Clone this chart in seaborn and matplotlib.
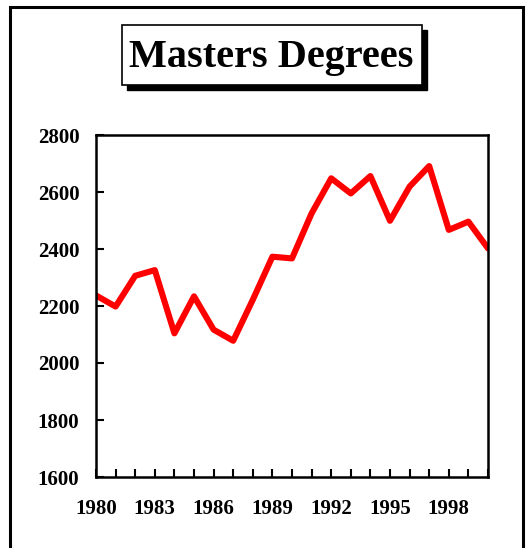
import pandas as pd
import matplotlib.pyplot as plt
import seaborn as sns
from matplotlib.patches import Rectangle

years = list(range(1980, 2001))
degrees = [2237, 2198, 2306, 2326, 2104, 2234, 2117, 2078, 2222, 2373, 2367,
           2525, 2648, 2595, 2656, 2499, 2619, 2691, 2467, 2496, 2402]
ytick_vals = [1600, 1800, 2000, 2200, 2400, 2600, 2800]
xtick_labels = ['1980', '1983', '1986', '1989', '1992', '1995', '1998']

df = pd.DataFrame({'Year': years, 'Degrees': degrees})

sns.set_style('white')
plt.rcParams['font.family'] = ['Liberation Serif', 'DejaVu Serif']
plt.rcParams['font.weight'] = 'bold'
plt.rcParams['text.color'] = 'black'
plt.rcParams['xtick.color'] = 'black'
plt.rcParams['ytick.color'] = 'black'

fig = plt.figure(figsize=(5.26, 5.48), dpi=100)
ax = fig.add_axes([96 / 526, 1 - 477 / 548, 392 / 526, 342 / 548])

sns.lineplot(data=df, x='Year', y='Degrees', color='#ff0000', linewidth=4.4, ax=ax)

ax.set_xlim(1980, 2000)
ax.set_ylim(1600, 2800)
ax.set_xticks(years)
ax.set_xticklabels([str(y) if str(y) in xtick_labels else '' for y in years])
ax.set_yticks(ytick_vals)
ax.set_yticklabels([str(v) for v in ytick_vals])
ax.tick_params(axis='both', direction='in', length=6, width=1.5, color='black',
               labelcolor='black', labelsize=15, bottom=True, left=True)
ax.tick_params(axis='x', pad=16)
ax.tick_params(axis='y', pad=12)
for lab in ax.get_xticklabels() + ax.get_yticklabels():
    lab.set_fontweight('bold')
ax.set_xlabel('')
ax.set_ylabel('')
for s in ax.spines.values():
    s.set_visible(True)
    s.set_color('black')
    s.set_linewidth(1.8)

# title box with drop shadow
fig.patches.append(Rectangle((127 / 526, 1 - 90 / 548), 300 / 526, 60 / 548,
                             transform=fig.transFigure, facecolor='black',
                             edgecolor='black', zorder=1))
fig.patches.append(Rectangle((122 / 526, 1 - 85 / 548), 300 / 526, 60 / 548,
                             transform=fig.transFigure, facecolor='white',
                             edgecolor='black', linewidth=1.2, zorder=2))
fig.text(271 / 526, 1 - 58 / 548, 'Masters Degrees', ha='center', va='center',
         fontsize=29, fontweight='bold', color='black', zorder=3)

# outer frame
fig.patches.append(Rectangle((10 / 526, -0.05), 513 / 526, 1.05 - 7 / 548,
                             transform=fig.transFigure, fill=False,
                             edgecolor='black', linewidth=2.2, zorder=0))

fig.savefig('out.png', dpi=100)
